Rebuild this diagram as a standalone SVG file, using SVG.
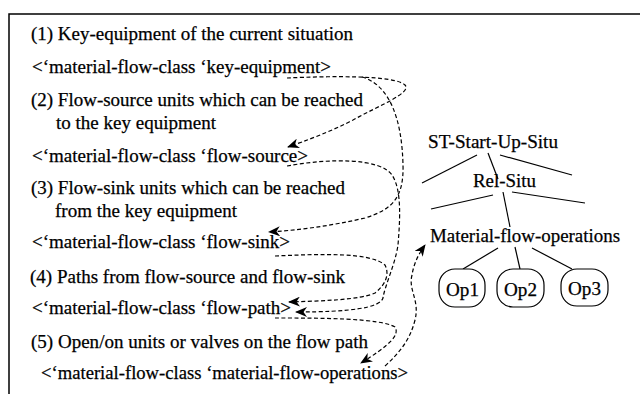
<svg xmlns="http://www.w3.org/2000/svg" width="640" height="394" viewBox="0 0 640 394">
<style>
text{font-family:"Liberation Serif","Times New Roman",serif;font-size:19px;fill:#000;stroke:#000;stroke-width:0.25}
.frame{fill:none;stroke:#000;stroke-width:1.5}
.edge{fill:none;stroke:#000;stroke-width:1.2}
.dash{fill:none;stroke:#000;stroke-width:1.2;stroke-dasharray:4 2.5;marker-end:url(#ah)}
.op{fill:#fff;stroke:#000;stroke-width:1.2}
</style>
<defs>
<marker id="ah" markerUnits="userSpaceOnUse" markerWidth="12" markerHeight="10" viewBox="0 0 12 10" refX="11" refY="5" orient="auto">
<path d="M0,0 L12,5 L0,10 L3.5,5 z" fill="#000"/>
</marker>
</defs>
<rect width="640" height="394" fill="#fff"/>
<path class="frame" d="M9,394 V14 H640"/>
<g id="steps">
<text x="31" y="40" textLength="322" lengthAdjust="spacingAndGlyphs">(1) Key-equipment of the current situation</text>
<text x="32" y="73" textLength="299" lengthAdjust="spacingAndGlyphs">&lt;‘material-flow-class ‘key-equipment&gt;</text>
<text x="31" y="106" textLength="332" lengthAdjust="spacingAndGlyphs">(2) Flow-source units which can be reached</text>
<text x="56" y="129" textLength="160" lengthAdjust="spacingAndGlyphs">to the key equipment</text>
<text x="32" y="162" textLength="276" lengthAdjust="spacingAndGlyphs">&lt;‘material-flow-class ‘flow-source&gt;</text>
<text x="31" y="194" textLength="314" lengthAdjust="spacingAndGlyphs">(3) Flow-sink units which can be reached</text>
<text x="55" y="217" textLength="182" lengthAdjust="spacingAndGlyphs">from the key equipment</text>
<text x="32" y="248" textLength="258" lengthAdjust="spacingAndGlyphs">&lt;‘material-flow-class ‘flow-sink&gt;</text>
<text x="30" y="283" textLength="315" lengthAdjust="spacingAndGlyphs">(4) Paths from flow-source and flow-sink</text>
<text x="32" y="314" textLength="259" lengthAdjust="spacingAndGlyphs">&lt;‘material-flow-class ‘flow-path&gt;</text>
<text x="31" y="348" textLength="337" lengthAdjust="spacingAndGlyphs">(5) Open/on units or valves on the flow path</text>
<text x="41" y="379" textLength="367" lengthAdjust="spacingAndGlyphs">&lt;‘material-flow-class ‘material-flow-operations&gt;</text>
</g>
<g id="tree-edges">
<line class="edge" x1="477" y1="155" x2="422" y2="183"/>
<line class="edge" x1="488" y1="153" x2="498" y2="179"/>
<line class="edge" x1="503" y1="192" x2="510" y2="227"/>
<line class="edge" x1="500" y1="155" x2="572" y2="175"/>
<line class="edge" x1="493" y1="195" x2="431" y2="209"/>
<line class="edge" x1="512" y1="192" x2="585" y2="203"/>
<line class="edge" x1="498" y1="248" x2="463" y2="269"/>
<line class="edge" x1="515" y1="247" x2="520" y2="269"/>
<line class="edge" x1="532" y1="248" x2="572" y2="269"/>
</g>
<g id="n-st"><text x="428" y="148" textLength="130" lengthAdjust="spacingAndGlyphs">ST-Start-Up-Situ</text></g>
<g id="n-rel"><text x="473" y="187" textLength="63" lengthAdjust="spacingAndGlyphs">Rel-Situ</text></g>
<g id="n-mfo"><text x="430" y="242" textLength="190" lengthAdjust="spacingAndGlyphs">Material-flow-operations</text></g>
<g id="n-op1"><rect class="op" x="439" y="269" width="46" height="38" rx="16"/><text x="446" y="296" textLength="33" lengthAdjust="spacingAndGlyphs">Op1</text></g>
<g id="n-op2"><rect class="op" x="497" y="269" width="47" height="38" rx="16"/><text x="504" y="296" textLength="33" lengthAdjust="spacingAndGlyphs">Op2</text></g>
<g id="n-op3"><rect class="op" x="561" y="269" width="47" height="37" rx="16"/><text x="568" y="295" textLength="33" lengthAdjust="spacingAndGlyphs">Op3</text></g>
<g id="connectors">
<path class="dash" d="M287,78 C330,76 395,75 405,85 C412,93 380,105 353,120 C330,132 305,141 288,147"/>
<path class="dash" d="M362,77 C390,85 402,120 403,165 C404,200 390,210 365,218 C330,226 300,230 269,232"/>
<path class="dash" d="M287,166 C330,158 380,158 392,175 C402,190 400,220 398,245 C395,265 385,285 383,298 C380,308 350,312 296,312"/>
<path class="dash" d="M275,256 C320,254 370,252 385,265 C390,275 385,285 375,293 C360,300 320,301 289,302"/>
<path class="dash" d="M275,318 C320,318 380,318 395,327 C400,335 390,345 361,363"/>
<path class="dash" d="M385,366 C400,352 410,340 415,320 C420,300 408,290 412,275 C414,262 420,252 425,245"/>
</g>
</svg>
